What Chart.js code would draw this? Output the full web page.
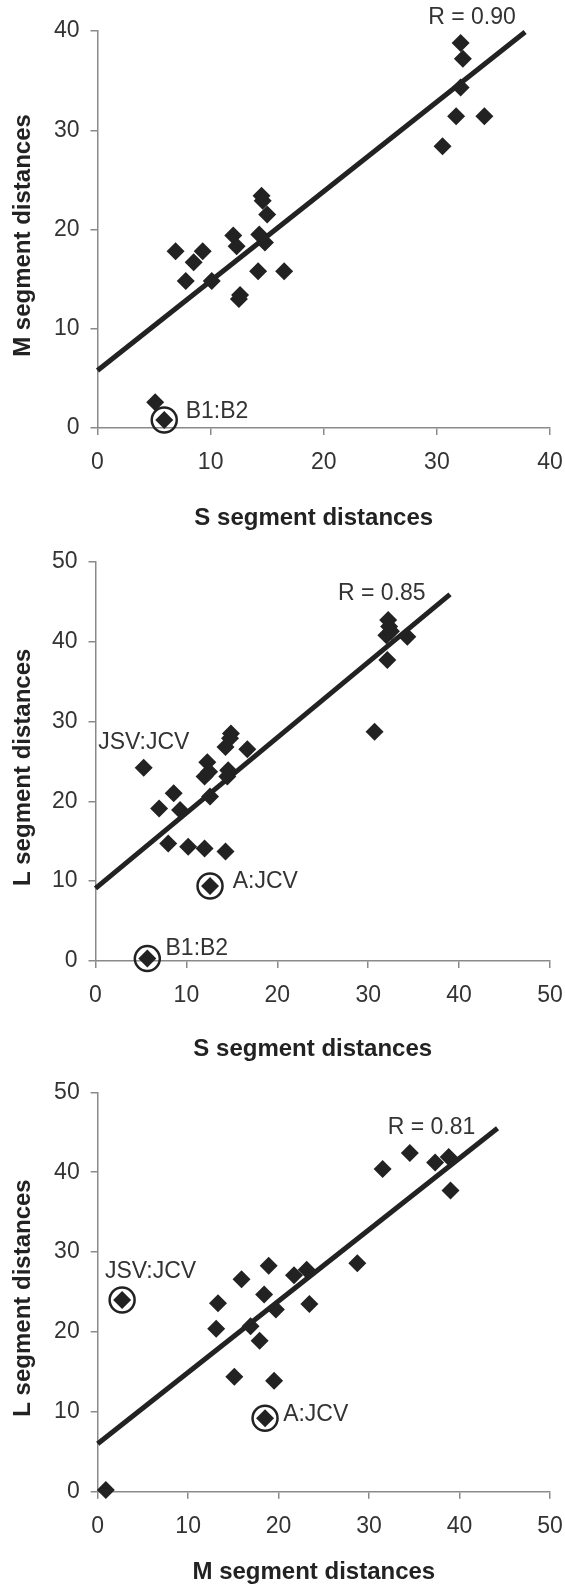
<!DOCTYPE html>
<html>
<head>
<meta charset="utf-8">
<script src="https://cdn.jsdelivr.net/npm/chart.js@4/dist/chart.umd.min.js"></script>
<style>
  html,body{margin:0;padding:0;background:#fff}
  body{position:relative;width:565px;height:1594px;overflow:hidden}
  canvas{position:absolute;left:0;display:block}
</style>
</head>
<body>
<canvas id="c1" width="565" height="540" style="top:0px"></canvas>
<canvas id="c2" width="565" height="526" style="top:540px"></canvas>
<canvas id="c3" width="565" height="528" style="top:1066px"></canvas>
<script>
// panel 1: S vs M
const S1=[5.1,5.9,6.9,7.8,8.5,9.3,10.1,12.0,12.3,12.5,12.6,14.2,14.3,14.5,14.6,14.8,15.0,16.5,30.5,31.7,32.1,32.3,32.1,34.2]
const M1=[2.6,0.8,17.8,14.8,16.7,17.8,14.8,19.4,18.3,13.0,13.4,15.8,19.5,23.4,22.9,18.7,21.5,15.8,28.4,31.4,38.8,37.2,34.3,31.4]
const HL1=[1]
const FIT1_X=[0,37.8], FIT1_Y=[5.8,39.9]

// panel 2: S vs L
const S2=[5.3,5.7,7.0,8.0,8.6,9.3,10.2,12.0,12.0,12.3,12.5,12.6,12.6,14.3,14.3,14.5,14.6,14.8,14.9,16.7,30.7,32.1,32.0,32.2,32.3,32.5,34.3]
const L2=[24.2,0.3,19.1,14.7,21.0,18.9,14.3,14.1,23.1,24.9,23.7,20.6,9.4,13.7,26.8,23.1,23.9,27.9,28.5,26.5,28.7,37.7,40.8,42.7,41.9,41.3,40.6]
const HL2=[1,12]
const FIT2_X=[0,39.0], FIT2_Y=[9.1,45.9]

// panel 3: M vs L
const M3=[0.9,2.7,13.1,13.3,15.1,15.9,16.9,17.9,18.4,18.5,18.9,19.5,19.7,21.7,23.1,23.4,28.7,31.5,34.5,37.3,38.8,39.0]
const L3=[0.2,24.0,20.4,23.6,14.4,26.6,20.7,18.9,24.7,9.2,28.3,13.9,22.8,27.1,27.8,23.5,28.6,40.4,42.4,41.2,41.9,37.7]
const HL3=[1,9]
const FIT3_X=[0,44.2], FIT3_Y=[6.0,45.5]

const TICKS_40=[0,10,20,30,40], TICKS_50=[0,10,20,30,40,50]

const INK='#222', AX='#8a8a8a', TXT='#333'
const FF='"Liberation Sans", Arial, Helvetica, sans-serif'

// text labels next to points + axis titles (drawn by hand so they can sit a bit off-centre like the original)
const notesPlugin={
  id:'notes',
  afterDatasetsDraw(chart,args,opts){
    const {ctx,chartArea:ca,scales:{x,y}}=chart
    ctx.save()
    ctx.font='23px '+FF
    ctx.fillStyle=TXT
    ctx.textBaseline='middle'
    ;(opts.items||[]).forEach(n=>{
      ctx.textAlign=n.align||'left'
      ctx.fillText(n.text,x.getPixelForValue(n.x),y.getPixelForValue(n.y))
    })
    ctx.font='bold 24px '+FF
    ctx.fillStyle=INK
    ctx.textAlign='center'
    ctx.fillText(opts.xTitle,(ca.left+ca.right)/2-10,opts.xTitleY)
    ctx.translate(23,(ca.top+ca.bottom)/2+6)
    ctx.rotate(-Math.PI/2)
    ctx.fillText(opts.yTitle,0,0)
    ctx.restore()
  }
}

function panel(id,xs,ys,hl,fx,fy,tk,o){
  const pts=xs.map((v,i)=>({x:v,y:ys[i]}))
  const axis=(extra)=>Object.assign({
    type:'linear',min:0,max:tk[tk.length-1],
    afterBuildTicks:s=>{s.ticks=tk.map(v=>({value:v}))},
    grid:{drawOnChartArea:false,drawTicks:true,tickLength:7,color:AX,lineWidth:1.5},
    border:{color:AX,width:1.5},
  },extra)
  new Chart(document.getElementById(id),{
    type:'scatter',
    data:{datasets:[
      {data:pts,pointStyle:'rectRot',pointRadius:9,backgroundColor:INK,borderWidth:0,clip:false},
      {data:hl.map(i=>pts[i]),pointStyle:'circle',pointRadius:12.5,backgroundColor:'rgba(0,0,0,0)',borderColor:INK,borderWidth:2.5,clip:false},
      {data:fx.map((v,i)=>({x:v,y:fy[i]})),showLine:true,borderColor:INK,borderWidth:5,pointRadius:0,clip:false},
    ]},
    plugins:[notesPlugin],
    options:{
      responsive:false,animation:false,events:[],
      layout:{padding:{top:o.top,right:o.right,bottom:o.bottom,left:0}},
      plugins:{legend:{display:false},tooltip:{enabled:false},
        notes:{items:o.notes,xTitle:o.xTitle,yTitle:o.yTitle,xTitleY:o.xTitleY}},
      scales:{
        x:axis({
          position:'bottom',
          ticks:{color:TXT,font:{family:FF,size:23},padding:14,autoSkip:false,maxRotation:0},
          afterFit:s=>{s.height=o.xh;s.paddingLeft=0;s.paddingRight=0}
        }),
        y:axis({
          position:'left',
          ticks:{color:TXT,font:{family:FF,size:23},padding:11,autoSkip:false},
          afterFit:s=>{s.width=o.yw;s.paddingTop=0;s.paddingBottom=0}
        })
      }
    }
  })
}

panel('c1',S1,M1,HL1,FIT1_X,FIT1_Y,TICKS_40,{
  top:31,right:15,bottom:7.6,xh:104.4,yw:97.5,xTitleY:518,
  xTitle:'S segment distances',yTitle:'M segment distances',
  notes:[{text:'R = 0.90',x:33.1,y:41.3,align:'center'},{text:'B1:B2',x:7.8,y:1.6}]
})
panel('c2',S2,L2,HL2,FIT2_X,FIT2_Y,TICKS_50,{
  top:21.7,right:15,bottom:2,xh:103,yw:95.5,xTitleY:509.6,
  xTitle:'S segment distances',yTitle:'L segment distances',
  notes:[{text:'R = 0.85',x:31.5,y:46.0,align:'center'},{text:'JSV:JCV',x:0.3,y:27.3},{text:'A:JCV',x:15.1,y:9.9},{text:'B1:B2',x:7.7,y:1.6}]
})
panel('c3',M3,L3,HL3,FIT3_X,FIT3_Y,TICKS_50,{
  top:26.3,right:13,bottom:7.6,xh:94.7,yw:97.7,xTitleY:506,
  xTitle:'M segment distances',yTitle:'L segment distances',
  notes:[{text:'R = 0.81',x:36.9,y:45.6,align:'center'},{text:'JSV:JCV',x:0.8,y:27.5},{text:'A:JCV',x:20.5,y:9.7}]
})
</script>
</body>
</html>
